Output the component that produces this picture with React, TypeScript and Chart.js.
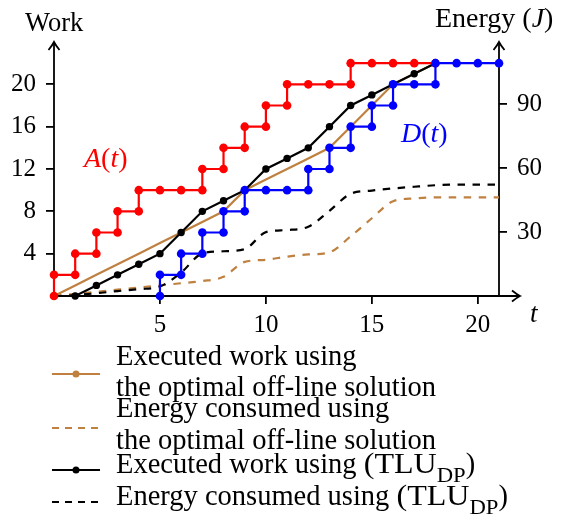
import { useEffect, useRef } from 'react';
import { Chart, registerables } from 'chart.js';
Chart.register(...registerables);

// ---------- data ----------
const timeSteps = [0, 1, 2, 3, 4, 5, 6, 7, 8, 9, 10, 11, 12, 13, 14, 15, 16, 17, 18, 19, 20, 21];
// A(t): cumulative arrived work, value after the jump at t = 0..18
const arrivalStart = 0;
const arrivalWork = [2, 4, 6, 8, 10, 10, 10, 12, 14, 16, 18, 20, 20, 20, 22, 22, 22, 22, 22];
// D(t): cumulative deadline work, value after the jump at t = 5..21
const deadlineStart = 5;
const deadlineWork = [2, 4, 6, 8, 10, 10, 10, 12, 14, 16, 18, 20, 20, 22, 22, 22, 22];
// executed work, t = 0..18
const workTLU = [0, 0, 1, 2, 3, 4, 6, 8, 9, 10, 12, 13, 14, 16, 18, 19, 20, 21, 22];
const workOptimal = [0, 1, 2, 3, 4, 5, 6, 7, 8, 10, 11, 12, 13, 14, 16, 18, 20, 21, 22];
// energy consumed, t = 0..21
const energyTLU = [0, 0.4, 1.3, 2.3, 3.2, 4.5, 11, 20, 21, 22, 30, 31, 32.5, 40, 48, 49.5, 50.5, 51.3, 52, 52.3, 52.3, 52.3];
const energyOptimal = [0, 1, 2, 3, 4, 5, 6, 7, 9, 16, 17, 18.5, 19.5, 20.5, 28, 36.5, 44.5, 45.8, 46.3, 46.3, 46.3, 46.3];
// ticks
const xTicks = [5, 10, 15, 20];
const workTicks = [4, 8, 12, 16, 20];
const energyTicks = [30, 60, 90];

const BROWN = '#bf8040';
const FONT = '"Liberation Serif", "Times New Roman", serif';

function stepPoints(start: number, vals: number[]) {
  const pts: { x: number; y: number }[] = [];
  let prev = 0;
  vals.forEach((v, i) => {
    const t = start + i;
    if (v !== prev) pts.push({ x: t, y: prev });
    pts.push({ x: t, y: v });
    prev = v;
  });
  return pts;
}
const toPts = (vals: number[]) => vals.map((v, i) => ({ x: timeSteps[i], y: v }));

type Run = { t: string; italic?: boolean; size?: number; dy?: number; w?: number };
function drawRuns(ctx: CanvasRenderingContext2D, x: number, y: number, runs: Run[], color: string, base = 26) {
  ctx.fillStyle = color;
  ctx.textBaseline = 'alphabetic';
  ctx.textAlign = 'left';
  let cx = x;
  for (const r of runs) {
    ctx.font = `${r.italic ? 'italic ' : ''}${r.size ?? base}px ${FONT}`;
    const mw = ctx.measureText(r.t).width;
    if (r.w) {
      ctx.save();
      ctx.translate(cx, y + (r.dy ?? 0));
      ctx.scale(r.w / mw, 1);
      ctx.fillText(r.t, 0, 0);
      ctx.restore();
      cx += r.w;
    } else {
      ctx.fillText(r.t, cx, y + (r.dy ?? 0));
      cx += mw;
    }
  }
}

function arrowAxis(ctx: CanvasRenderingContext2D, x0: number, y0: number, x1: number, y1: number) {
  ctx.beginPath();
  ctx.moveTo(x0, y0);
  ctx.lineTo(x1, y1);
  ctx.stroke();
  const a = Math.atan2(y1 - y0, x1 - x0);
  const L = 8, W = 5.5;
  const bx = x1 - L * Math.cos(a), by = y1 - L * Math.sin(a);
  const px = -Math.sin(a), py = Math.cos(a);
  ctx.beginPath();
  ctx.moveTo(bx + W * px, by + W * py);
  ctx.quadraticCurveTo(x1 - 3 * Math.cos(a) + 1.5 * px, y1 - 3 * Math.sin(a) + 1.5 * py, x1, y1);
  ctx.quadraticCurveTo(x1 - 3 * Math.cos(a) - 1.5 * px, y1 - 3 * Math.sin(a) - 1.5 * py, bx - W * px, by - W * py);
  ctx.stroke();
}

const decor = {
  id: 'decor',
  beforeDatasetsDraw(chart: any) {
    const ctx = chart.ctx as CanvasRenderingContext2D;
    const { left, right, bottom, top } = chart.chartArea;
    ctx.save();
    ctx.strokeStyle = '#000';
    ctx.lineWidth = 1.8;
    ctx.setLineDash([]);
    arrowAxis(ctx, left, bottom, right + 21, bottom);
    arrowAxis(ctx, left, bottom, left, top);
    arrowAxis(ctx, right, bottom, right, top);
    ctx.restore();
  },
  afterDraw(chart: any) {
    const ctx = chart.ctx as CanvasRenderingContext2D;
    ctx.save();
    drawRuns(ctx, 25, 31, [{ t: 'Work' }], '#000', 26.5);
    drawRuns(ctx, 435, 27, [{ t: 'Energy (' }, { t: 'J', italic: true }, { t: ')' }], '#000', 28);
    drawRuns(ctx, 530, 322, [{ t: 't', italic: true }], '#000', 27);
    drawRuns(ctx, 84, 167, [{ t: 'A', italic: true }, { t: '(' }, { t: 't', italic: true }, { t: ')' }], '#ff0000', 28);
    drawRuns(ctx, 401, 142, [{ t: 'D', italic: true }, { t: '(' }, { t: 't', italic: true }, { t: ')' }], '#0000ff', 28);

    // legend
    const lx0 = 52, lx1 = 100, tx = 116, fs = 28.5;
    const sample = (y: number, color: string, dashed: boolean, dot: boolean) => {
      ctx.strokeStyle = color;
      ctx.lineWidth = 2;
      ctx.setLineDash(dashed ? [7, 6] : []);
      ctx.beginPath();
      ctx.moveTo(lx0, y);
      ctx.lineTo(lx1, y);
      ctx.stroke();
      ctx.setLineDash([]);
      if (dot) {
        ctx.fillStyle = color;
        ctx.beginPath();
        ctx.arc((lx0 + lx1) / 2, y, 3.5, 0, Math.PI * 2);
        ctx.fill();
      }
    };
    sample(374, BROWN, false, true);
    drawRuns(ctx, tx, 365, [{ t: 'Executed work using' }], '#000', fs);
    drawRuns(ctx, tx, 396, [{ t: 'the optimal off-line solution' }], '#000', fs);
    sample(428, BROWN, true, false);
    drawRuns(ctx, tx, 417, [{ t: 'Energy consumed using' }], '#000', fs);
    drawRuns(ctx, tx, 449, [{ t: 'the optimal off-line solution' }], '#000', fs);
    sample(470, '#000', false, true);
    drawRuns(ctx, tx, 473, [{ t: 'Executed work using ' }, { t: '(TLU', w: 73 }, { t: 'DP', size: 20, dy: 9, w: 29 }, { t: ')' }], '#000', fs);
    sample(502, '#000', true, false);
    drawRuns(ctx, tx, 505, [{ t: 'Energy consumed using ' }, { t: '(TLU', w: 73 }, { t: 'DP', size: 20, dy: 9, w: 29 }, { t: ')' }], '#000', fs);
    ctx.restore();
  },
};

export default function App() {
  const ref = useRef<HTMLCanvasElement>(null);
  useEffect(() => {
    document.body.style.margin = '0';
    Chart.defaults.font.family = FONT;
    const tickFont = { family: FONT, size: 25 };
    const grid = { display: true, drawOnChartArea: false, drawTicks: true, tickLength: 8, color: '#000', lineWidth: 1.8 };
    const chart = new Chart(ref.current!, {
      type: 'line',
      data: {
        datasets: [
          { data: stepPoints(deadlineStart, deadlineWork), borderColor: '#0000ff', backgroundColor: '#0000ff', borderWidth: 2.2, pointRadius: 4.3, pointBorderWidth: 0, yAxisID: 'y', clip: false } as any,
          { data: stepPoints(arrivalStart, arrivalWork), borderColor: '#ff0000', backgroundColor: '#ff0000', borderWidth: 2.2, pointRadius: 4.3, pointBorderWidth: 0, yAxisID: 'y', clip: false },
          { data: toPts(workTLU), borderColor: '#000', backgroundColor: '#000', borderWidth: 2.2, pointRadius: 3.7, pointBorderWidth: 0, yAxisID: 'y', clip: false },
          { data: toPts(workOptimal), borderColor: BROWN, backgroundColor: BROWN, borderWidth: 2.2, pointRadius: 0, yAxisID: 'y', clip: false },
          { data: toPts(energyTLU), borderColor: '#000', borderWidth: 2.2, borderDash: [7.5, 7.5], pointRadius: 0, cubicInterpolationMode: 'monotone', yAxisID: 'y1', clip: false },
          { data: toPts(energyOptimal), borderColor: BROWN, borderWidth: 2.2, borderDash: [7.5, 7.5], pointRadius: 0, cubicInterpolationMode: 'monotone', yAxisID: 'y1', clip: false },
        ],
      },
      options: {
        animation: false,
        responsive: false,
        events: [],
        layout: { padding: { top: 42, left: 0, right: 0, bottom: 0 } },
        plugins: { legend: { display: false }, tooltip: { enabled: false } },
        scales: {
          x: {
            type: 'linear', min: 0, max: 21,
            grid, border: { display: false },
            ticks: { font: tickFont, color: '#000', padding: 6, maxRotation: 0 },
            afterBuildTicks: (s: any) => { s.ticks = xTicks.map((v) => ({ value: v })); },
            afterFit: (s: any) => { s.height = 221; },
          },
          y: {
            type: 'linear', position: 'left', min: 0, max: 24,
            grid, border: { display: false },
            ticks: { font: tickFont, color: '#000', padding: 10 },
            afterBuildTicks: (s: any) => { s.ticks = workTicks.map((v) => ({ value: v })); },
            afterFit: (s: any) => { s.width = 54; },
          },
          y1: {
            type: 'linear', position: 'right', min: 0, max: 119.25,
            grid, border: { display: false },
            ticks: { font: tickFont, color: '#000', padding: 10 },
            afterBuildTicks: (s: any) => { s.ticks = energyTicks.map((v) => ({ value: v })); },
            afterFit: (s: any) => { s.width = 62; },
          },
        },
      },
      plugins: [decor],
    });
    return () => chart.destroy();
  }, []);
  return <canvas ref={ref} width={561} height={517} style={{ display: 'block' }} />;
}
